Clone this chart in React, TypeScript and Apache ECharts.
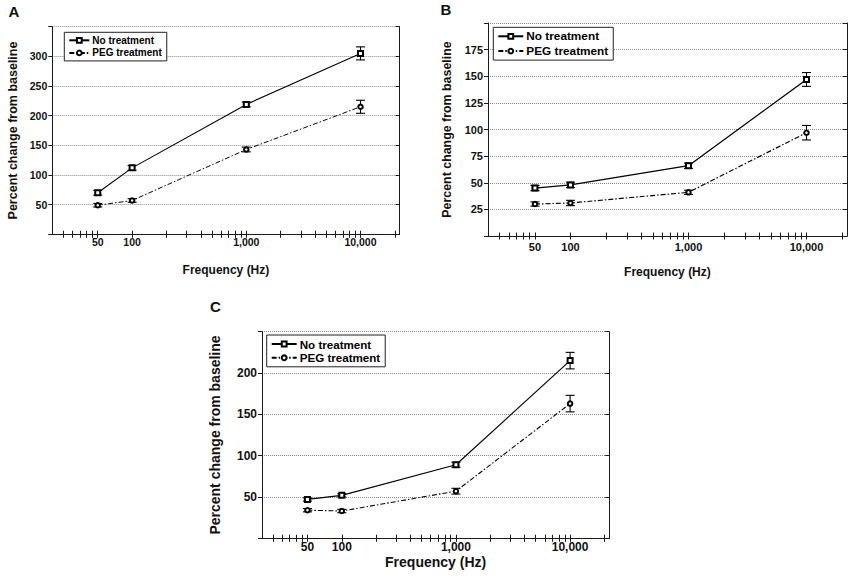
import React, { useEffect, useRef } from 'react';
import * as echarts from 'echarts';

// ---------- data ----------
const frequencies = [50, 100, 1000, 10000];
const seriesNames = ['No treatment', 'PEG treatment'];

const aNoTreatment = [70, 112, 219, 305];
const aNoTreatmentErr = [4, 4, 4, 11];
const aPeg = [49, 57, 143, 215];
const aPegErr = [3, 3, 4, 11];

const bNoTreatment = [45, 48, 66, 147];
const bNoTreatmentErr = [2.5, 2.5, 2.5, 6.5];
const bPeg = [30, 31, 41, 97];
const bPegErr = [2, 2.5, 2, 6.8];

const cNoTreatment = [47, 52, 89, 215];
const cNoTreatmentErr = [2, 2, 3, 10];
const cPeg = [34, 33, 57, 163];
const cPegErr = [2, 2, 3.5, 10];

const xTickValues = [50, 100, 1000, 10000];
const xTickLabels = ['50', '100', '1,000', '10,000'];
const xAllTicks = [
  25, 30, 35, 40, 45, 50, 100,
  200, 300, 400, 500, 600, 700, 800, 900, 1000,
  2000, 3000, 4000, 5000, 6000, 7000, 8000, 9000, 10000, 20000,
];
const xMin = 20;
const xMax = 22000;

const yTicksA = [50, 100, 150, 200, 250, 300];
const yTicksB = [25, 50, 75, 100, 125, 150, 175];
const yTicksC = [50, 100, 150, 200];

const xTitle = 'Frequency (Hz)';
const yTitle = 'Percent change from baseline';

// ---------- layout / styles ----------
const FONT = '"Liberation Sans", Arial, Helvetica, sans-serif';

const panels = [
  {
    letter: 'A', letterPos: [14, 11],
    grid: { left: 52.3, top: 26.7, width: 347.3, height: 207.6 },
    yMax: 350, yInterval: 50, yTicks: yTicksA,
    noT: aNoTreatment, noTErr: aNoTreatmentErr, peg: aPeg, pegErr: aPegErr,
    tickFont: 10.5, titleFont: 12, yTitleFont: 12.5, yNameGap: 33, xNameGap: 30,
    xLabelMargin: 2.5,
    legend: { left: 64.3, top: 32.3, font: 10, itemWidth: 20, gap: 2.6 },
    lineWidth: 1.1,
  },
  {
    letter: 'B', letterPos: [446, 9],
    grid: { left: 488, top: 23, width: 358.9, height: 213 },
    yMax: 200, yInterval: 25, yTicks: yTicksB,
    noT: bNoTreatment, noTErr: bNoTreatmentErr, peg: bPeg, pegErr: bPegErr,
    tickFont: 11, titleFont: 12, yTitleFont: 12.4, yNameGap: 35, xNameGap: 29.5,
    xLabelMargin: 5,
    legend: { left: 493.3, top: 27.3, font: 11.8, itemWidth: 25, gap: 2.8 },
    lineWidth: 1.3,
  },
  {
    letter: 'C', letterPos: [215.5, 306],
    grid: { left: 262, top: 331.7, width: 347.2, height: 206.6 },
    yMax: 250, yInterval: 50, yTicks: yTicksC,
    noT: cNoTreatment, noTErr: cNoTreatmentErr, peg: cPeg, pegErr: cPegErr,
    tickFont: 12, titleFont: 14, yTitleFont: 14, yNameGap: 40, xNameGap: 17,
    xLabelMargin: 2.5,
    legend: { left: 266.7, top: 335, font: 11.6, itemWidth: 25, gap: 1.8 },
    lineWidth: 1.2,
  },
];

const errorRender = (params: any, api: any) => {
  const x = api.value(0);
  const y = api.value(1);
  const e = api.value(2);
  const top = api.coord([x, y + e]);
  const bot = api.coord([x, y - e]);
  const hw = 4.5;
  const st = { stroke: '#000', lineWidth: 1.1 };
  return {
    type: 'group',
    children: [
      { type: 'line', shape: { x1: top[0], y1: top[1], x2: bot[0], y2: bot[1] }, style: st },
      { type: 'line', shape: { x1: top[0] - hw, y1: top[1], x2: top[0] + hw, y2: top[1] }, style: st },
      { type: 'line', shape: { x1: bot[0] - hw, y1: bot[1], x2: bot[0] + hw, y2: bot[1] }, style: st },
    ],
  };
};

function xLabelFormatter(v: number) {
  const i = xTickValues.findIndex((t) => Math.abs(t - v) / t < 1e-6);
  return i >= 0 ? xTickLabels[i] : '';
}

function buildOption() {
  const grid: any[] = [];
  const xAxis: any[] = [];
  const yAxis: any[] = [];
  const series: any[] = [];
  const legend: any[] = [];
  const graphic: any[] = [];
  const axisLine = { show: true, lineStyle: { color: '#1a1a1a', width: 1 } };

  panels.forEach((p, i) => {
    grid.push({ ...p.grid, containLabel: false, show: false });

    xAxis.push({
      type: 'log', logBase: 10, gridIndex: i, position: 'bottom', min: xMin, max: xMax,
      axisLine,
      axisTick: { show: true, inside: true, length: 3.5, customValues: xAllTicks, lineStyle: { color: '#1a1a1a' } },
      axisLabel: {
        show: true, customValues: xTickValues, formatter: xLabelFormatter,
        fontFamily: FONT, fontWeight: 'bold', fontSize: p.tickFont, color: '#111', margin: p.xLabelMargin,
      },
      splitLine: { show: false },
      minorTick: { show: false },
      name: xTitle, nameLocation: 'middle', nameGap: p.xNameGap,
      nameTextStyle: { fontFamily: FONT, fontWeight: 'bold', fontSize: p.titleFont, color: '#111' },
    });
    xAxis.push({
      type: 'log', logBase: 10, gridIndex: i, position: 'top', min: xMin, max: xMax,
      axisLine,
      axisTick: { show: true, inside: true, length: 3.5, customValues: xAllTicks, lineStyle: { color: '#1a1a1a' } },
      axisLabel: { show: false },
      splitLine: { show: false },
    });

    const yt = p.yTicks;
    yAxis.push({
      type: 'value', gridIndex: i, position: 'left', min: 0, max: p.yMax, interval: p.yInterval,
      axisLine,
      axisTick: { show: true, inside: false, length: 4, lineStyle: { color: '#1a1a1a' } },
      axisLabel: {
        formatter: (v: number) => (yt.includes(v) ? String(v) : ''),
        fontFamily: FONT, fontWeight: 'bold', fontSize: p.tickFont, color: '#111', margin: 5,
      },
      splitLine: { show: true, lineStyle: { type: 'dotted', color: '#8a8a8a', width: 1 } },
      name: yTitle, nameLocation: 'middle', nameGap: p.yNameGap,
      nameTextStyle: { fontFamily: FONT, fontWeight: 'bold', fontSize: p.yTitleFont, color: '#111' },
    });
    yAxis.push({
      type: 'value', gridIndex: i, position: 'right', min: 0, max: p.yMax, interval: p.yInterval,
      axisLine,
      axisTick: { show: true, inside: true, length: 4, lineStyle: { color: '#1a1a1a' } },
      axisLabel: { show: false },
      splitLine: { show: false },
    });

    const xi = i * 2;
    const yi = i * 2;
    series.push({
      type: 'custom', name: 'err-no-' + i, xAxisIndex: xi, yAxisIndex: yi, z: 2,
      renderItem: errorRender, encode: { x: 0, y: 1 },
      data: frequencies.map((f, k) => [f, p.noT[k], p.noTErr[k]]),
    });
    series.push({
      type: 'custom', name: 'err-peg-' + i, xAxisIndex: xi, yAxisIndex: yi, z: 2,
      renderItem: errorRender, encode: { x: 0, y: 1 },
      data: frequencies.map((f, k) => [f, p.peg[k], p.pegErr[k]]),
    });
    series.push({
      type: 'line', name: seriesNames[0], xAxisIndex: xi, yAxisIndex: yi, z: 3,
      data: frequencies.map((f, k) => [f, p.noT[k]]),
      symbol: 'emptyRect', symbolSize: 5,
      lineStyle: { color: '#000', width: p.lineWidth, type: 'solid' },
      itemStyle: { color: '#000', borderWidth: 1 },
    });
    series.push({
      type: 'line', name: seriesNames[1], xAxisIndex: xi, yAxisIndex: yi, z: 3,
      data: frequencies.map((f, k) => [f, p.peg[k]]),
      symbol: 'emptyCircle', symbolSize: 4.5,
      lineStyle: { color: '#000', width: p.lineWidth * 0.9, type: [5, 2, 1.5, 2] },
      itemStyle: { color: '#000', borderWidth: 1 },
    });

    legend.push({
      left: p.legend.left, top: p.legend.top, orient: 'vertical',
      padding: [3, 5, 3, 4], itemGap: p.legend.gap,
      itemWidth: p.legend.itemWidth, itemHeight: 6,
      borderColor: '#222', borderWidth: 1, backgroundColor: '#fff',
      selectedMode: false,
      textStyle: { fontFamily: FONT, fontWeight: 'bold', fontSize: p.legend.font, color: '#000', padding: [0, 0, 0, -2] },
      data: seriesNames,
    });

    graphic.push({
      type: 'text', x: p.letterPos[0], y: p.letterPos[1],
      style: {
        text: p.letter, fontFamily: FONT, fontWeight: 'bold', fontSize: 15,
        fill: '#111', align: 'center', verticalAlign: 'middle',
      },
    });
  });

  return {
    animation: false,
    backgroundColor: '#fff',
    grid, xAxis, yAxis, series, legend, graphic,
  };
}

export default function App() {
  const ref = useRef<HTMLDivElement>(null);
  useEffect(() => {
    if (!ref.current) return;
    const chart = echarts.init(ref.current, null, { renderer: 'svg' });
    chart.setOption(buildOption() as any);
    return () => chart.dispose();
  }, []);
  return (
    <div
      ref={ref}
      style={{ position: 'fixed', left: 0, top: 0, width: 850, height: 579, background: '#fff' }}
    />
  );
}
